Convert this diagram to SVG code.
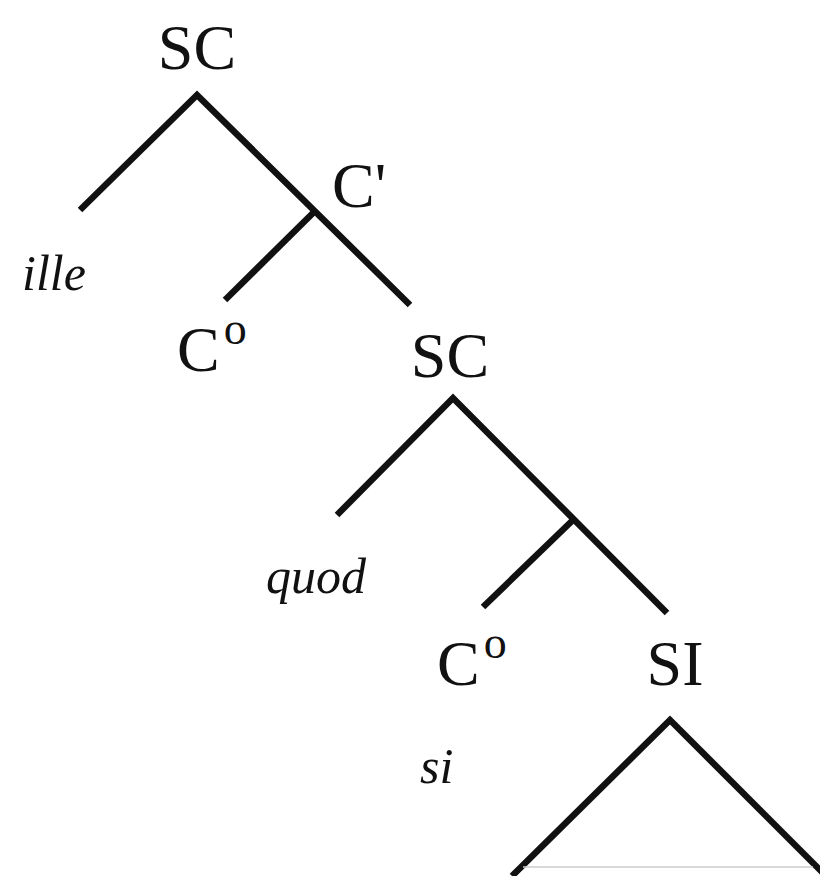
<svg xmlns="http://www.w3.org/2000/svg" width="820" height="876" viewBox="0 0 820 876">
<style>
.cat{font-family:"Liberation Serif",serif;font-size:64px;fill:#111;text-anchor:middle}
.lex{font-family:"Liberation Serif",serif;font-style:italic;font-size:50px;fill:#111}
.sup{font-size:46px}
.edge{stroke:#111;stroke-width:6.5;fill:none;stroke-linecap:butt;stroke-linejoin:miter}
</style>
<rect width="820" height="876" fill="#fff"/>
<g id="connectors" class="edge">
<polyline points="80,210 197,95 410,305"/>
<line x1="313" y1="213" x2="225" y2="300"/>
<polyline points="337,515 453,398 667,613"/>
<line x1="573" y1="520" x2="483" y2="607"/>
<polyline points="512,876 670,720 826,876"/>
<line x1="523" y1="867" x2="813" y2="867" style="stroke:#ccc;stroke-width:1.5"/>
</g>
<g id="n-sc1"><text class="cat" x="197" y="69">SC</text></g>
<g id="n-ille"><text class="lex" x="22" y="290">ille</text></g>
<g id="n-cbar"><text class="cat" x="332" y="207" style="text-anchor:start">C'</text></g>
<g id="n-c0a"><text class="cat" x="177" y="371" style="text-anchor:start">C<tspan class="sup" dx="4" dy="-27">o</tspan></text></g>
<g id="n-sc2"><text class="cat" x="450" y="377">SC</text></g>
<g id="n-quod"><text class="lex" x="266" y="593">quod</text></g>
<g id="n-c0b"><text class="cat" x="437" y="685" style="text-anchor:start">C<tspan class="sup" dx="4" dy="-27">o</tspan></text></g>
<g id="n-si1"><text class="cat" x="675" y="685">SI</text></g>
<g id="n-si"><text class="lex" x="420" y="783">si</text></g>
</svg>
